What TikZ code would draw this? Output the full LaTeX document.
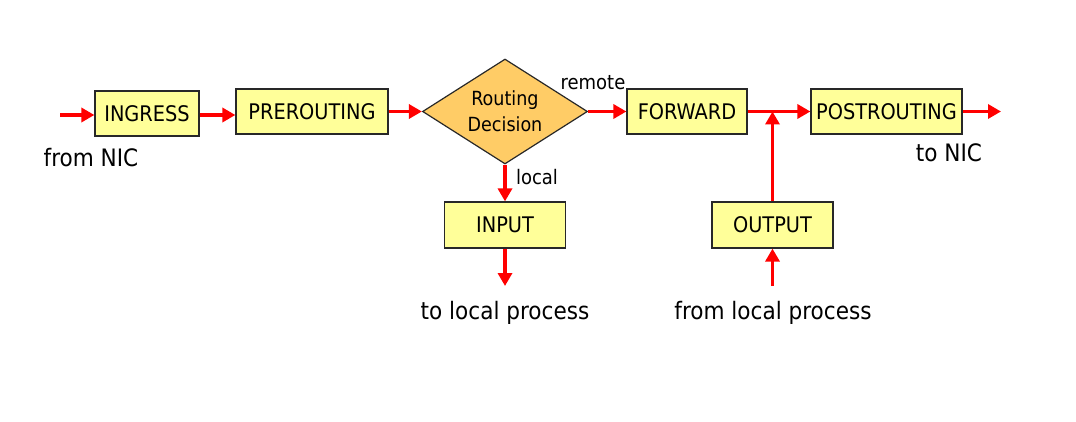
\documentclass[tikz,border=0pt]{standalone}
\usepackage{fontspec}
\setmainfont{DejaVu Sans Condensed}
\usetikzlibrary{shapes.geometric,arrows.meta}
\definecolor{boxfill}{RGB}{255,255,153}
\definecolor{dfill}{RGB}{255,204,102}
\definecolor{arrred}{RGB}{255,0,0}
\definecolor{edge}{RGB}{40,40,40}
\tikzset{
  stagebox/.style={draw=edge, line width=1.2pt, fill=boxfill, inner sep=0pt, font=\fontsize{21.5}{24}\selectfont},
  decision/.style={diamond, draw=edge, line width=1.2pt, fill=dfill, inner sep=0pt, aspect=1.6, minimum width=165pt, minimum height=105pt, align=center, font=\fontsize{19.5}{26}\selectfont},
  arr/.style={draw=arrred, line width=3.8pt, -{Triangle[length=13pt,width=14pt]}},
  biglabel/.style={font=\fontsize{24}{28}\selectfont, inner sep=0pt},
  smalllabel/.style={font=\fontsize{20}{24}\selectfont, inner sep=0pt},
}
\begin{document}
\begin{tikzpicture}[x=1pt,y=-1pt]
\useasboundingbox (0,0) rectangle (1076,422);
\node[stagebox, minimum width=104pt, minimum height=45pt] (ingress) at (147,113.5) {INGRESS};
\node[stagebox, minimum width=152pt, minimum height=45pt] (prerouting) at (312,111.5) {PREROUTING};
\node[decision] (rd) at (505,111.5) {Routing\\Decision};
\node[stagebox, minimum width=120pt, minimum height=45pt] (forward) at (687,111.5) {FORWARD};
\node[stagebox, minimum width=151pt, minimum height=45pt] (postrouting) at (886.5,111.5) {POSTROUTING};
\node[stagebox, minimum width=121pt, minimum height=46pt] (input) at (505,225) {INPUT};
\node[stagebox, minimum width=121pt, minimum height=46pt] (output) at (772.5,225) {OUTPUT};

\coordinate (nicin) at (60,115);
\coordinate (nicout) at (1001,111.5);
\coordinate (junction) at (772.5,111.5);
\coordinate (toproc) at (505,286);
\coordinate (fromproc) at (772.5,286);

\draw[arr] (nicin) -- (nicin -| ingress.west);
\draw[arr] (ingress.east |- 0,115) -- (prerouting.west |- 0,115);
\draw[arr] (prerouting.east) -- (rd.west);
\draw[arr] (rd.east) -- (forward.west);
\draw[arr] (forward.east) -- (postrouting.west);
\draw[arr] (postrouting.east) -- (nicout);
\draw[arr] (rd.south) -- (input.north);
\draw[arr] (input.south) -- (toproc);
\draw[arr] (fromproc) -- (output.south);
\draw[arr] (output.north) -- (junction);

\node[biglabel] (fromnic) at (91,158) {from NIC};
\node[biglabel] (tonic) at (949,153) {to NIC};
\node[biglabel] (tolp) at (505,313) {to local process};
\node[biglabel] (fromlp) at (773,313) {from local process};
\node[smalllabel] (remote) at (593,83) {remote};
\node[smalllabel] (local) at (537,177) {local};
\end{tikzpicture}
\end{document}
